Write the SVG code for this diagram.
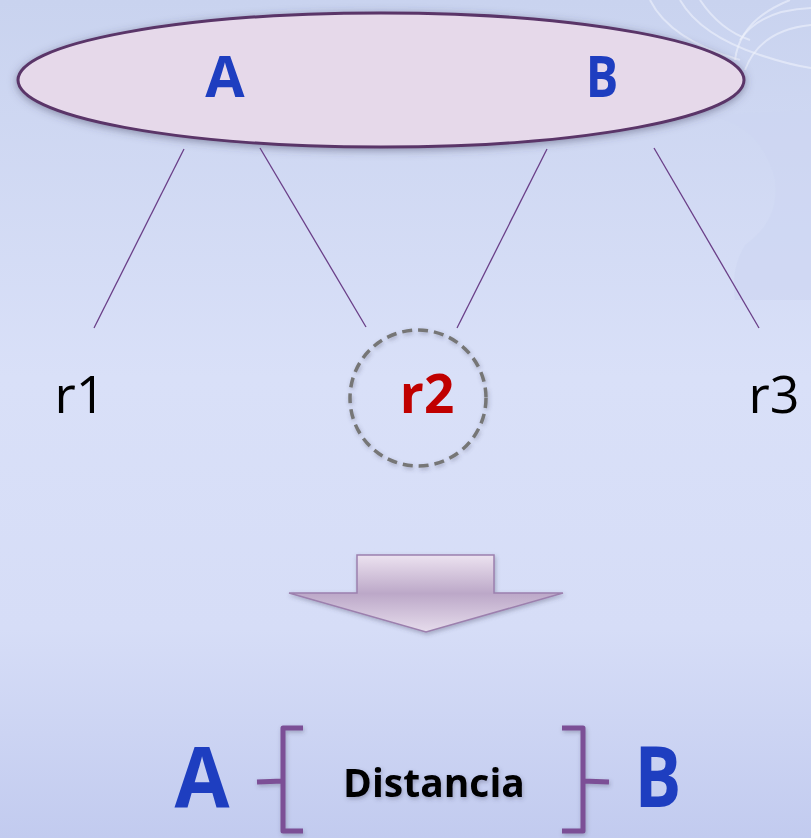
<svg xmlns="http://www.w3.org/2000/svg" width="811" height="838" viewBox="0 0 811 838">
<defs>
<linearGradient id="bg" x1="0" y1="0" x2="0" y2="1">
<stop offset="0" stop-color="#c9d3ef"/>
<stop offset="0.45" stop-color="#d9e0f8"/>
<stop offset="0.75" stop-color="#d6ddf7"/>
<stop offset="1" stop-color="#c2cbef"/>
</linearGradient>
<linearGradient id="arrowFill" x1="0" y1="0" x2="0" y2="1">
<stop offset="0" stop-color="#ece2f0"/>
<stop offset="0.5" stop-color="#bca8c8"/>
<stop offset="1" stop-color="#e6dcec"/>
</linearGradient>
<filter id="shadow" x="-10%" y="-30%" width="120%" height="160%">
<feDropShadow dx="0" dy="2" stdDeviation="4" flood-color="#404060" flood-opacity="0.5"/>
</filter>
<filter id="soft" x="-10%" y="-10%" width="120%" height="130%">
<feDropShadow dx="1" dy="2" stdDeviation="2" flood-color="#404060" flood-opacity="0.35"/>
</filter>
<style>
.conn{stroke:#6a3f88;stroke-width:1.3;fill:none}
.blue{font-family:"Open Sans","Liberation Sans",sans-serif;font-weight:bold;fill:#1e3ec0}
.lbl{font-family:"Open Sans","Liberation Sans",sans-serif;font-size:52px;fill:#000}
.brace{stroke:#7b4f96;stroke-width:5;fill:none;stroke-linejoin:round}
.deco{stroke:#eef2fc;stroke-width:2;fill:none;opacity:0.6}
</style>
</defs>
<rect width="811" height="838" fill="url(#bg)"/>
<g id="decor">
<path d="M740 40 Q760 10 811 8" class="deco"/>
<path d="M735 60 Q740 20 790 0" class="deco"/>
<path d="M745 70 Q760 30 811 25" class="deco"/>
<path d="M700 0 Q720 30 750 40" class="deco"/>
<path d="M680 0 Q700 35 760 55 Q790 65 811 68" class="deco"/>
<path d="M650 0 Q670 40 740 60" class="deco"/>
<path d="M700 115 Q760 120 775 180 Q780 220 745 245 Q730 270 735 300 L811 300 L811 110 Z" fill="#cdd6f2" opacity="0.6"/>
</g>
<g id="ellipse">
<ellipse cx="381" cy="80" rx="363" ry="67" fill="#e6d9ea" stroke="#5a3468" stroke-width="3" filter="url(#shadow)"/>
<text x="225" y="97" class="blue" font-size="57" text-anchor="middle">A</text>
<text x="0" y="97" class="blue" font-size="57" text-anchor="middle" transform="translate(602 0) scale(0.85 1)">B</text>
</g>
<g id="connectors">
<line x1="184" y1="149" x2="94" y2="328" class="conn"/>
<line x1="260" y1="148" x2="366" y2="327" class="conn"/>
<line x1="547" y1="149" x2="457" y2="328" class="conn"/>
<line x1="654" y1="148" x2="759" y2="328" class="conn"/>
</g>
<g id="r1">
<text x="80" y="413" class="lbl" text-anchor="middle">r1</text>
</g>
<g id="r2">
<circle cx="418" cy="398" r="68" fill="none" stroke="#767676" stroke-width="3.5" stroke-dasharray="10 6" filter="url(#soft)"/>
<text x="427" y="413" font-family="Open Sans, Liberation Sans, sans-serif" font-weight="bold" font-size="53" fill="#c00000" text-anchor="middle">r2</text>
</g>
<g id="r3">
<text x="774" y="413" class="lbl" text-anchor="middle">r3</text>
</g>
<g id="arrow">
<path d="M357 555 L494 555 L494 593 L563 593 L426 632 L289 593 L357 593 Z" fill="url(#arrowFill)" stroke="#9c80ae" stroke-width="1.5" filter="url(#soft)"/>
</g>
<g id="result">
<text x="202" y="807" class="blue" font-size="84" text-anchor="middle" transform="translate(202 0) scale(0.95 1) translate(-202 0)">A</text>
<text x="0" y="807" class="blue" font-size="84" text-anchor="middle" transform="translate(658 0) scale(0.83 1)">B</text>
<path d="M303 728 L283 728 L283 781 L257 782 M283 781 L283 831 L303 831" class="brace" filter="url(#soft)"/>
<path d="M562 728 L583 728 L583 781 L609 782 M583 781 L583 831 L562 831" class="brace" filter="url(#soft)"/>
<text x="434" y="797" font-family="Open Sans, Liberation Sans, sans-serif" font-weight="bold" font-size="39" fill="#000" text-anchor="middle" filter="url(#soft)">Distancia</text>
</g>
</svg>
